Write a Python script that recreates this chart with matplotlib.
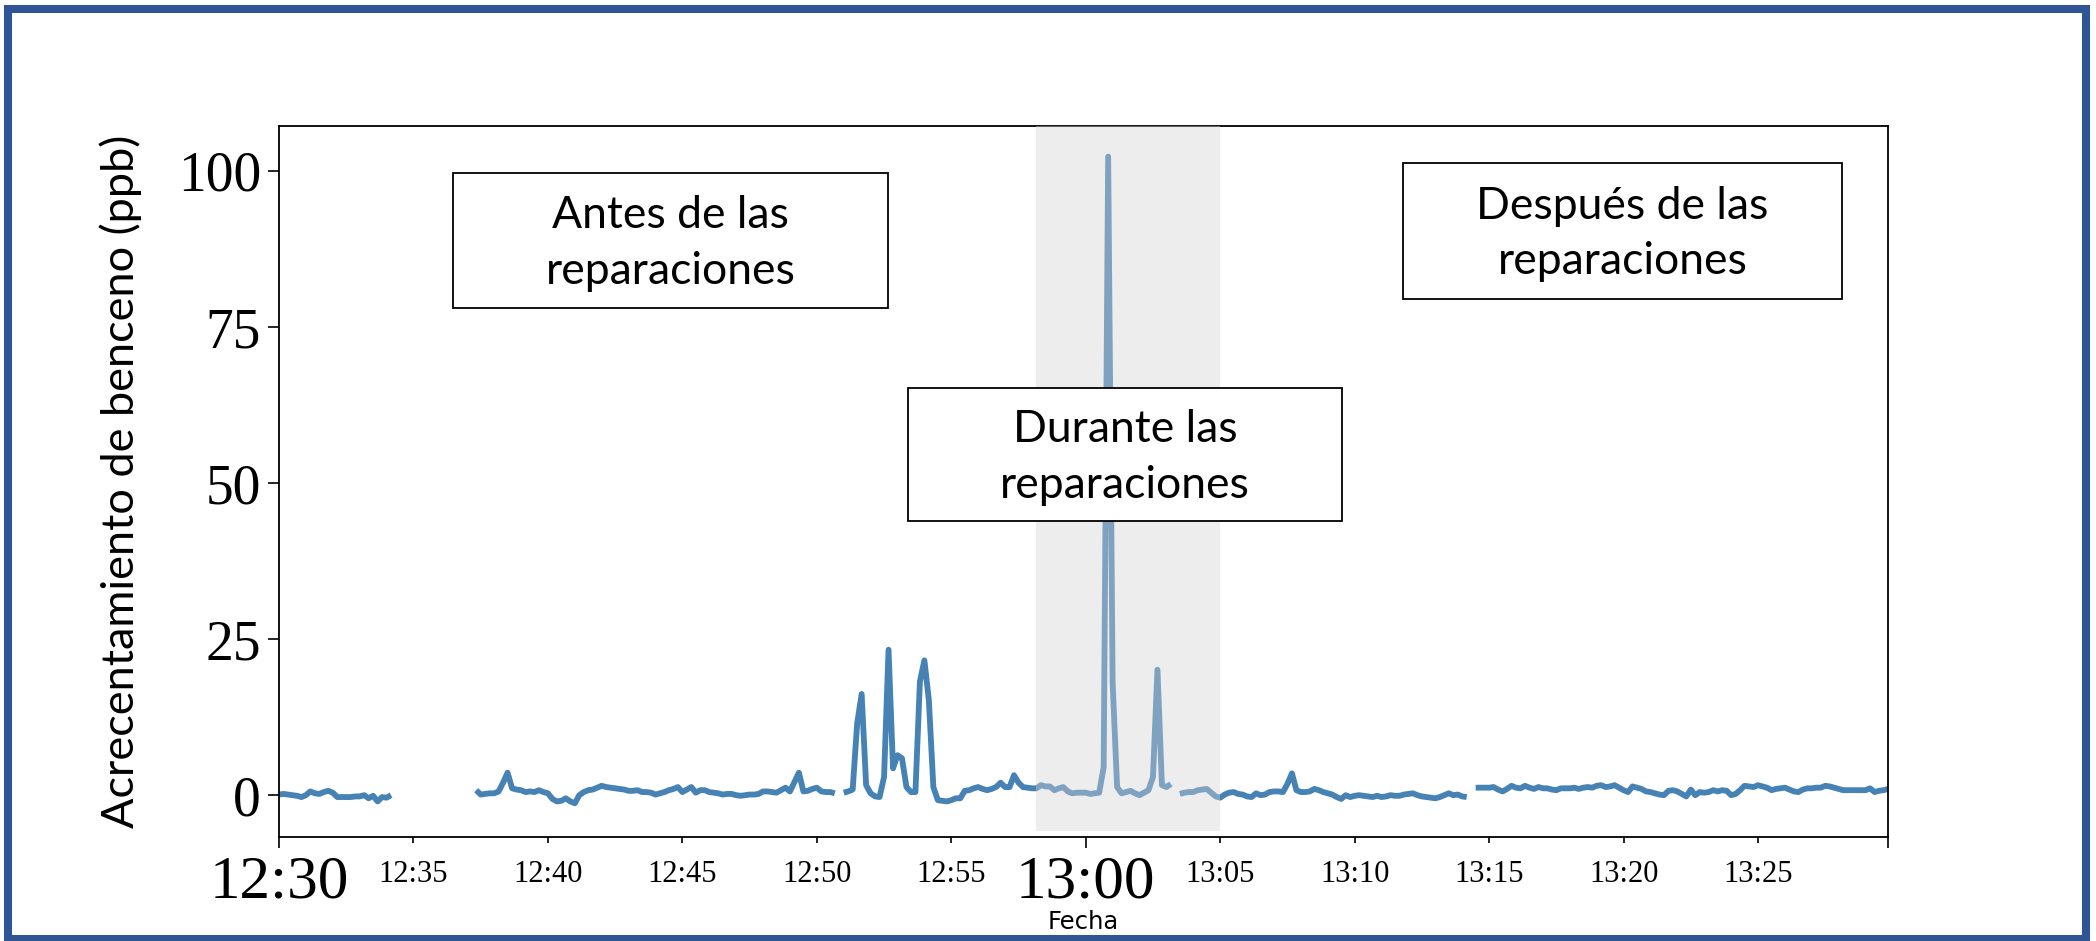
import numpy as np
import pandas as pd
import matplotlib
matplotlib.use("Agg")
import matplotlib.pyplot as plt
import matplotlib.dates as mdates
from matplotlib.patches import Rectangle

# ---------------- data ----------------
DAY = "2023-01-01 "
sample_start = "12:30:00"
n_samples = 360            # 10-second readings, 12:30:00 .. 13:29:50
sample_freq = "10s"

segment_starts = ["12:30:00", "12:37:20", "12:51:00", "13:03:30", "13:14:30"]

seg1 = [0.1, 0.2, 0.1, 0.0, -0.1, -0.3, 0.0, 0.6, 0.3, 0.2, 0.5, 0.7, 0.4,
        -0.3, -0.3, -0.3, -0.3, -0.2, -0.2, 0.0, -0.5, -0.1, -1.0, -0.3, -0.4, 0.0]
seg2 = [0.8, 0.1, 0.2, 0.3, 0.3, 0.6, 2.0, 3.6, 1.1, 0.9,
        0.8, 0.5, 0.6, 0.5, 0.8, 0.5, 0.3, -0.6, -1.0, -0.9,
        -0.5, -1.0, -1.3, 0.0, 0.5, 0.8, 0.9, 1.2, 1.5, 1.3,
        1.2, 1.1, 1.0, 0.9, 0.7, 0.7, 0.8, 0.5, 0.5, 0.4,
        0.1, 0.3, 0.5, 0.8, 1.0, 1.3, 0.5, 0.9, 1.3, 0.4,
        0.8, 0.8, 0.5, 0.4, 0.3, 0.1, 0.2, 0.2, 0.0, -0.1,
        0.0, 0.1, 0.1, 0.2, 0.6, 0.6, 0.5, 0.4, 0.8, 1.2,
        0.6, 2.1, 3.6, 0.6, 0.7, 1.0, 1.2, 0.6, 0.5, 0.5,
        0.3]
seg3 = [0.4, 0.6, 0.9, 11.5, 16.2, 1.6, 0.3, -0.2, -0.3, 2.9,
        23.3, 4.3, 6.4, 5.9, 1.3, 0.5, 0.5, 18.2, 21.6, 15.2,
        1.3, -0.8, -0.9, -1.0, -0.8, -0.5, -0.5, 0.7, 0.8, 1.1,
        1.3, 1.0, 0.8, 1.0, 1.3, 2.0, 1.3, 1.3, 3.2, 2.0,
        1.3, 1.2, 1.1, 1.1, 1.6, 1.4, 1.4, 0.8, 1.1, 1.3,
        0.6, 0.3, 0.4, 0.4, 0.4, 0.2, 0.3, 0.4, 4.5, 102.3,
        18.0, 1.3, 0.3, 0.5, 0.7, 0.3, 0.0, 0.4, 0.8, 2.9,
        20.1, 1.6, 1.3, 1.8]
seg4 = [0.2, 0.4, 0.5, 0.5, 0.8, 0.9, 1.0, 0.4, -0.2, -0.4,
        0.1, 0.4, 0.5, 0.2, 0.1, -0.2, -0.3, 0.3, 0.0, 0.1,
        0.5, 0.6, 0.6, 0.5, 1.8, 3.5, 0.8, 0.5, 0.5, 0.6,
        1.0, 0.8, 0.5, 0.3, 0.1, -0.3, -0.6, 0.0, -0.3, -0.1,
        0.0, -0.1, -0.2, -0.3, -0.1, -0.3, -0.2, 0.0, -0.1, -0.1,
        0.1, 0.2, 0.3, 0.0, -0.2, -0.3, -0.4, -0.5, -0.3, 0.0,
        0.3, 0.0, 0.1, -0.2, -0.3]
seg5 = [1.2, 1.2, 1.2, 1.2, 1.3, 0.9, 0.6, 1.0, 1.5, 1.2,
        1.1, 1.5, 1.2, 1.0, 1.3, 1.1, 1.1, 0.9, 0.8, 1.1,
        1.1, 1.1, 1.2, 1.0, 1.2, 1.3, 1.2, 1.5, 1.6, 1.3,
        1.4, 1.6, 1.2, 0.8, 0.5, 1.4, 1.2, 1.0, 0.6, 0.5,
        0.3, 0.1, 0.0, 0.7, 0.8, 0.6, 0.2, -0.2, 0.9, 0.0,
        0.5, 0.4, 0.5, 0.8, 0.6, 0.8, 0.7, 0.0, 0.2, 0.8,
        1.5, 1.4, 1.3, 1.6, 1.4, 1.2, 0.8, 1.0, 1.1, 1.2,
        0.9, 0.6, 0.5, 0.9, 1.1, 1.1, 1.2, 1.2, 1.5, 1.4,
        1.2, 1.0, 0.8, 0.8, 0.8, 0.8, 0.8, 0.8, 1.1, 0.5,
        0.7, 0.8, 1.0]
segments = [seg1, seg2, seg3, seg4, seg5]

repair_start = "12:58:08"
repair_end = "13:05:00"

major_tick_labels = ["12:30", "13:00"]
minor_tick_labels = ["12:35", "12:40", "12:45", "12:50", "12:55",
                     "13:05", "13:10", "13:15", "13:20", "13:25"]
y_ticks = [0, 25, 50, 75, 100]

box_texts = ["Antes de las\nreparaciones",
             "Durante las\nreparaciones",
             "Después de las\nreparaciones"]

y_label = "Acrecentamiento de benceno (ppb)"
x_label = "Fecha"

# ---------------- build series ----------------
times = pd.date_range(pd.Timestamp(DAY + sample_start), periods=n_samples, freq=sample_freq)
values = np.full(n_samples, np.nan)
for start, seg in zip(segment_starts, segments):
    i0 = times.get_loc(pd.Timestamp(DAY + start))
    values[i0:i0 + len(seg)] = seg

def tnum(s):
    return mdates.date2num(pd.Timestamp(DAY + s).to_pydatetime())

# ---------------- figure ----------------
plt.rcParams["font.family"] = ["Liberation Serif", "DejaVu Serif"]
W, H = 2096, 941
fig = plt.figure(figsize=(W / 100, H / 100), dpi=100)
fig.patch.set_facecolor("white")

ax = fig.add_axes([279 / W, 1 - 837 / H, (1888 - 279) / W, (837 - 126) / H])

xnum = mdates.date2num(times.to_pydatetime())
ax.plot(xnum, values, color="#4682B4", lw=4.2, solid_capstyle="butt", zorder=2)
ax.axvspan(tnum(repair_start), tnum(repair_end), ymin=0.008, ymax=1.0,
           facecolor=(0.83, 0.83, 0.83), alpha=0.4, lw=0, zorder=3)

ax.set_xlim(xnum[0], xnum[-1])
ax.set_ylim(-6.7, 107.2)

major_pos = [tnum(s) for s in major_tick_labels] + [xnum[-1]]
ax.set_xticks(major_pos, labels=major_tick_labels + [""])
ax.set_xticks([tnum(s) for s in minor_tick_labels], labels=minor_tick_labels, minor=True)
ax.set_yticks(y_ticks, labels=[str(v) for v in y_ticks])

ax.tick_params(axis="x", which="major", length=8, width=1.2, labelsize=44, pad=5, direction="out")
ax.tick_params(axis="x", which="minor", length=4.3, width=1.2, labelsize=22, pad=12, direction="out")
ax.tick_params(axis="y", which="major", length=8, width=1.2, labelsize=40, pad=5, direction="out")

for sp in ax.spines.values():
    sp.set_linewidth(1.3)
    sp.set_color("black")

ax.set_ylabel(y_label, family=["Lato", "DejaVu Sans"], fontsize=32.5, va="center")
ax.yaxis.set_label_coords(-0.0985, 0.5)
ax.set_xlabel(x_label, family=["DejaVu Sans"], fontsize=17.5, va="center")
ax.xaxis.set_label_coords(0.5, -0.12)

# ---------------- annotation boxes (pixel layout) ----------------
boxes = [(453, 173, 888, 308), (908, 388, 1342, 521), (1403, 163, 1842, 299)]
for (x0, y0, x1, y1), txt in zip(boxes, box_texts):
    rect = Rectangle((x0 / W, 1 - y1 / H), (x1 - x0) / W, (y1 - y0) / H,
                     transform=fig.transFigure, facecolor="white",
                     edgecolor="black", lw=1.3, zorder=5)
    fig.add_artist(rect)
    fig.text((x0 + x1) / 2 / W, 1 - ((y0 + y1) / 2 + 3) / H, txt,
             ha="center", va="center", fontsize=32, linespacing=1.45,
             family=["Lato", "DejaVu Sans"], color="black", zorder=6)

# ---------------- outer slide frame ----------------
frame = Rectangle((8 / W, 1 - 939 / H), (2086 - 8) / W, (939 - 9) / H,
                  transform=fig.transFigure, facecolor="none",
                  edgecolor="#2F5597", lw=5.8, zorder=10)
fig.add_artist(frame)

fig.savefig("out.png", dpi=100, facecolor="white")
